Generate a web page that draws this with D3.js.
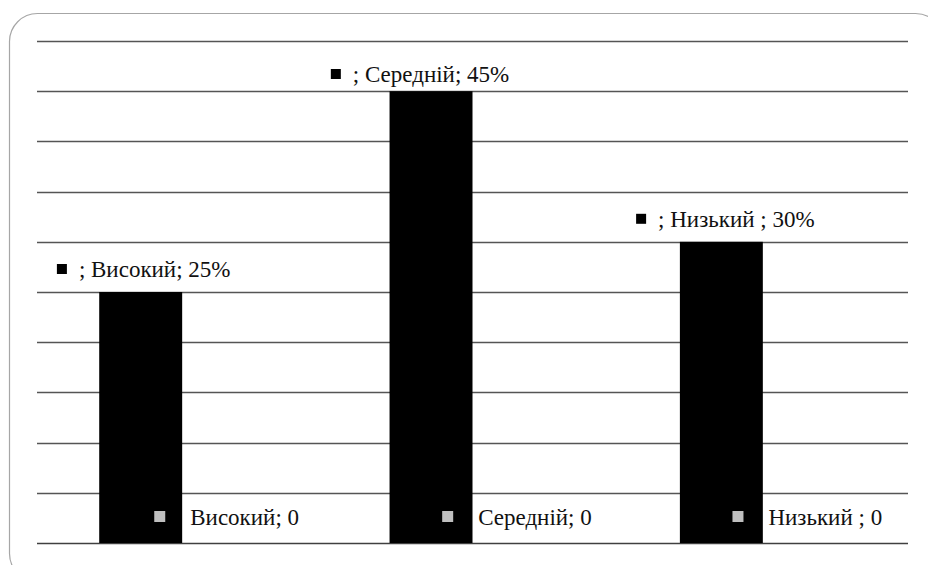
<!DOCTYPE html>
<html>
<head>
<meta charset="utf-8">
<script src="https://cdn.jsdelivr.net/npm/d3@7"></script>
<style>
    html, body { margin: 0; padding: 0; background: #fff; }
    svg { display: block; }
    text { font-family: "Liberation Serif", "Times New Roman", serif; }
</style>
</head>
<body>
<div id="chart"></div>
<script>
// Chart data
const categories = ['Високий', 'Середній', 'Низький '];
const seriesNames = ['', 'zero'];
const percentValues = [25, 45, 30];
const zeroValues = [0, 0, 0];
const yTicks = [0, 5, 10, 15, 20, 25, 30, 35, 40, 45, 50];

const width = 928;
const height = 565;
const margin = { top: 41, right: 20, bottom: 22, left: 37 };

const svg = d3.select('#chart')
    .append('svg')
    .attr('width', width)
    .attr('height', height);

// Rounded frame around the chart area
svg.append('rect')
    .attr('x', 9.5)
    .attr('y', 13.5)
    .attr('width', 934)
    .attr('height', 568)
    .attr('rx', 28)
    .attr('fill', 'none')
    .attr('stroke', '#a6a6a6')
    .attr('stroke-width', 1.2);

const x = d3.scaleBand()
    .domain(categories)
    .range([margin.left, width - margin.right])
    .paddingInner(0)
    .paddingOuter(0);

// Two bars per category, gap width 150%
const xInner = d3.scaleBand()
    .domain(seriesNames)
    .range([0, x.bandwidth()])
    .paddingInner(0)
    .paddingOuter(0.75);

const y = d3.scaleLinear()
    .domain([0, 50])
    .range([height - margin.bottom, margin.top]);

// Gridlines
svg.append('g')
    .selectAll('line')
    .data(yTicks)
    .enter().append('line')
    .attr('x1', margin.left)
    .attr('x2', width - margin.right)
    .attr('y1', d => Math.round(y(d)) + 0.5)
    .attr('y2', d => Math.round(y(d)) + 0.5)
    .attr('stroke', d => d === 0 ? '#404040' : '#555')
    .attr('stroke-width', 1.3);

// Bars
svg.append('g')
    .selectAll('rect')
    .data(percentValues)
    .enter().append('rect')
    .attr('x', (d, i) => x(categories[i]) + xInner(''))
    .attr('y', d => y(d))
    .attr('width', xInner.bandwidth())
    .attr('height', d => y(0) - y(d))
    .attr('fill', '#000');

// Data label with a legend key in front of the text
function addLabel(cx, baseline, keyColor, keySize, gap, str) {
    const g = svg.append('g');
    const key = g.append('rect')
        .attr('width', keySize)
        .attr('height', keySize)
        .attr('fill', keyColor);
    const t = g.append('text')
        .attr('y', baseline)
        .style('font-size', '23px')
        .style('fill', '#111')
        .text(str);
    const tw = t.node().getComputedTextLength();
    const total = keySize + gap + tw;
    const left = cx - total / 2;
    key.attr('x', left).attr('y', baseline - 3 - keySize);
    t.attr('x', left + keySize + gap);
}

// Labels above the bars (the top one was nudged left in the original)
const topShift = [3, -11, 4];
percentValues.forEach((v, i) => {
    const cx = x(categories[i]) + xInner('') + xInner.bandwidth() / 2;
    const baseline = Math.max(y(v) - 15, 82);
    addLabel(cx + topShift[i], baseline, '#000', 10, 12, '; ' + categories[i] + '; ' + v + '%');
});

// Labels of the zero series along the bottom
zeroValues.forEach((v, i) => {
    const cx = x(categories[i]) + xInner('zero') + xInner.bandwidth() / 2;
    addLabel(cx + 3, y(0) - 18, '#bfbfbf', 11, 25, categories[i] + '; ' + v);
});
</script>
</body>
</html>
